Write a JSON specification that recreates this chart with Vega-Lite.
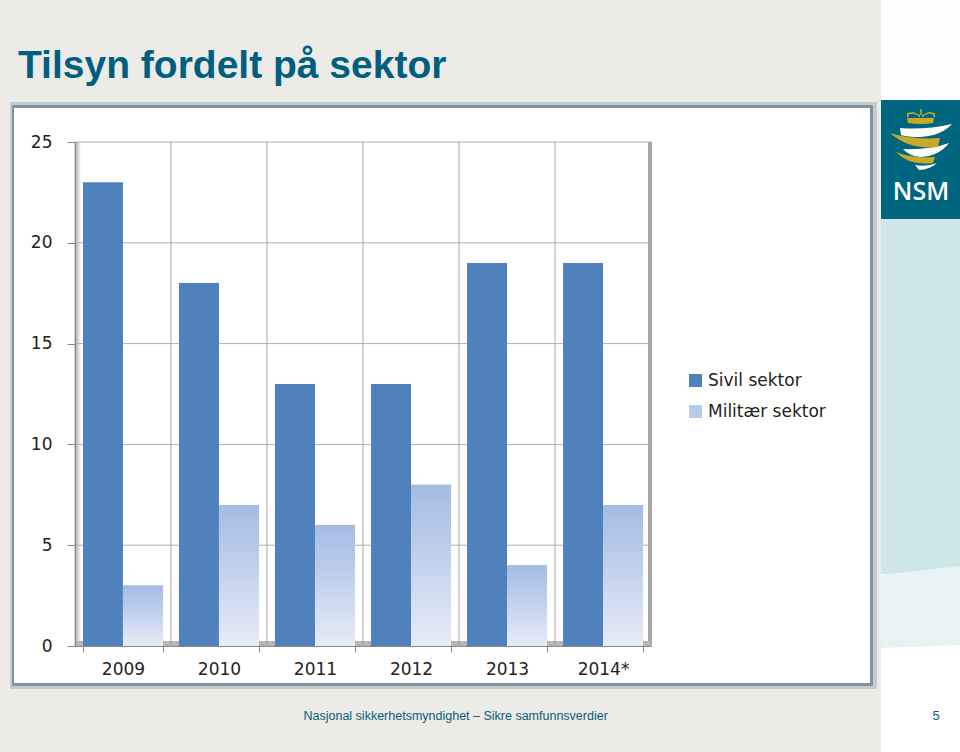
{
"$schema":"https://vega.github.io/schema/vega-lite/v6.json",
"width":576,"height":504,"autosize":"none",
"padding":{"left":75,"top":142,"right":309,"bottom":106},
"background":"#ecebe8",
"title":{"text":"Tilsyn fordelt på sektor","anchor":"start","frame":"group","dx":-57,"dy":117,"offset":0,"baseline":"alphabetic","font":"Liberation Sans","fontWeight":"bold","fontSize":39,"color":"#005f80"},
"config":{"view":{"stroke":null,"fill":"#ffffff"}},
"datasets":{
"bars":[
{"year":"2009","sector":"Sivil sektor","value":23},{"year":"2009","sector":"Militær sektor","value":3},
{"year":"2010","sector":"Sivil sektor","value":18},{"year":"2010","sector":"Militær sektor","value":7},
{"year":"2011","sector":"Sivil sektor","value":13},{"year":"2011","sector":"Militær sektor","value":6},
{"year":"2012","sector":"Sivil sektor","value":13},{"year":"2012","sector":"Militær sektor","value":8},
{"year":"2013","sector":"Sivil sektor","value":19},{"year":"2013","sector":"Militær sektor","value":4},
{"year":"2014*","sector":"Sivil sektor","value":19},{"year":"2014*","sector":"Militær sektor","value":7}],
"ygrid":[{"v":0},{"v":5},{"v":10},{"v":15},{"v":20},{"v":25}],
"xgrid":[{"year":"2009"},{"year":"2010"},{"year":"2011"},{"year":"2012"},{"year":"2013"},{"year":"2014*"}]
},
"layer":[
{"data":{"values":[{"part":"soft shadow"}]},"mark":{"type":"rect","fill":"#c5ccd0"},"encoding":{"x":{"value":-65},"x2":{"value":802},"y":{"value":-40},"y2":{"value":547}}},
{"data":{"values":[{"part":"frame"}]},"mark":{"type":"rect","fill":"#84929c"},"encoding":{"x":{"value":-63},"x2":{"value":798},"y":{"value":-37},"y2":{"value":544}}},
{"data":{"values":[{"part":"panel"}]},"mark":{"type":"rect","fill":"#ffffff"},"encoding":{"x":{"value":-61},"x2":{"value":795},"y":{"value":-34},"y2":{"value":541}}},
{"data":{"values":[{"part":"top"}]},"mark":{"type":"rect","fill":"#fdfdfd"},"encoding":{"x":{"value":806},"x2":{"value":885},"y":{"value":-142},"y2":{"value":-42}}},
{"data":{"values":[{"part":"logo"}]},"mark":{"type":"rect","fill":"#006680"},"encoding":{"x":{"value":806},"x2":{"value":885},"y":{"value":-42},"y2":{"value":77}}},
{"data":{"values":[{"part":"strip"}]},"mark":{"type":"rect","fill":"#cfe6e8"},"encoding":{"x":{"value":806},"x2":{"value":885},"y":{"value":77},"y2":{"value":432}}},
{"data":{"values":[{"part":"strip foot"}]},"mark":{"type":"rect","fill":"#ffffff"},"encoding":{"x":{"value":806},"x2":{"value":885},"y":{"value":432},"y2":{"value":610}}},
{"data":{"values":[{"part":"wave"}]},"mark":{"type":"point","filled":true,"opacity":1,"fill":"#e6f2f3","stroke":null,"size":4,"shape":"M-40,-35 L39,-44 L39,35 L-40,38 Z"},"encoding":{"x":{"value":846},"y":{"value":468}}},
{"data":{"values":[{"part":"white swooshes"}]},"mark":{"type":"point","filled":true,"opacity":1,"fill":"#ffffff","stroke":null,"size":4,"shape":"M-21,-12 Q5,-10 31,-16 Q20,-4 -1,-3 Q-14,-3 -20,-5 Z M-18,9 Q10,10 28,3 Q18,16 0,17 Q-12,16 -18,9 Z M-6,25 Q6,27 16,23 Q8,30 -2,30 Z"},"encoding":{"x":{"value":846},"y":{"value":-2}}},
{"data":{"values":[{"part":"gold swooshes"}]},"mark":{"type":"point","filled":true,"opacity":1,"fill":"#c9aa28","stroke":null,"size":4,"shape":"M-31,-7 Q-10,0 19,-2 L17,7 Q-12,10 -31,-7 Z M-25,12 Q-8,19 14,17 L12,23 Q-12,26 -25,12 Z M-14,-22 L13,-22 L12,-17 Q0,-15 -13,-17 Z M-14,-23 L-14,-27 L-8,-28 L-1,-25 L-1,-23 L-2.5,-23 L-2.5,-24.5 L-8,-26.5 L-12.5,-25.5 L-12.5,-23 Z M14,-23 L14,-27 L8,-28 L1,-25 L1,-23 L2.5,-23 L2.5,-24.5 L8,-26.5 L12.5,-25.5 L12.5,-23 Z M-0.7,-31 L0.7,-31 L0.7,-25 L-0.7,-25 Z"},"encoding":{"x":{"value":846},"y":{"value":-2}}},
{"data":{"values":[{"label":"NSM"}]},"mark":{"type":"text","font":"Open Sans","fontSize":25,"fontWeight":600,"fill":"#ffffff","align":"center","baseline":"alphabetic"},"encoding":{"text":{"field":"label"},"x":{"value":846},"y":{"value":58}}},
{"data":{"values":[{"part":"left wall"}]},"mark":{"type":"rect","fill":{"gradient":"linear","x1":0,"y1":0,"x2":1,"y2":0,"stops":[{"offset":0,"color":"#a8a8a8"},{"offset":1,"color":"#ffffff"}]}},"encoding":{"x":{"value":0},"x2":{"value":6},"y":{"value":0},"y2":{"value":504}}},
{"data":{"values":[{"part":"right wall"}]},"mark":{"type":"rect","fill":"#a6a6a6"},"encoding":{"x":{"value":573},"x2":{"value":577},"y":{"value":0},"y2":{"value":504}}},
{"data":{"values":[{"part":"floor"}]},"mark":{"type":"rect","fill":"#b5b5b5"},"encoding":{"x":{"value":0},"x2":{"value":576},"y":{"value":499},"y2":{"value":504}}},
{"data":{"name":"ygrid"},"mark":{"type":"rule","color":"#b0b0b0","strokeWidth":1},"encoding":{"y":{"field":"v","type":"quantitative","scale":{"domain":[0,25],"nice":false}}}},
{"data":{"name":"xgrid"},"mark":{"type":"rule","color":"#a6a6a6","strokeWidth":1,"xOffset":-8},"encoding":{"x":{"field":"year","type":"nominal","bandPosition":0,"sort":null}}},
{"data":{"name":"bars"},"mark":{"type":"bar"},"encoding":{
"x":{"field":"year","type":"nominal","sort":null,"scale":{"paddingInner":0.167,"paddingOuter":0.083},
 "title":"Nasjonal sikkerhetsmyndighet – Sikre samfunnsverdier",
 "axis":{"titleX":228,"titleY":73,"titleAlign":"left","titleBaseline":"alphabetic","titleFont":"Liberation Sans","titleFontSize":12.5,"titleFontWeight":"normal","titleColor":"#0b5c78","labelAngle":0,"labelAlign":"center","labelFont":"DejaVu Sans","labelFontSize":17,"labelColor":"#222222","labelPadding":17,"tickBand":"extent","tickOffset":8,"tickSize":6,"tickColor":"#888888","domainColor":"#888888","grid":false,"zindex":1}},
"xOffset":{"field":"sector","sort":["Sivil sektor","Militær sektor"]},
"y":{"field":"value","type":"quantitative","stack":null,"scale":{"domain":[0,25],"nice":false},
 "title":"5",
 "axis":{"titleX":857,"titleY":577,"titleAngle":0,"titleAlign":"left","titleBaseline":"alphabetic","titleFont":"Liberation Sans","titleFontSize":13,"titleFontWeight":"normal","titleColor":"#0b5c78","values":[0,5,10,15,20,25],"labelFont":"DejaVu Sans","labelFontSize":17,"labelColor":"#222222","labelPadding":15,"tickSize":8,"tickColor":"#888888","domainColor":"#888888","grid":false,"zindex":1}},
"color":{"field":"sector","type":"nominal","sort":["Sivil sektor","Militær sektor"],
 "scale":{"domain":["Sivil sektor","Militær sektor"],"range":["#4f81bd","#b9cbea"]},
 "legend":{"title":null,"orient":"none","legendX":612,"legendY":230,"symbolType":"square","symbolSize":170,"symbolStrokeWidth":0,"labelFont":"DejaVu Sans","labelFontSize":17,"labelColor":"#222222","rowPadding":13,"labelOffset":4,"zindex":1}}
}},
{"data":{"name":"bars"},"transform":[{"filter":"datum.sector==='Militær sektor'"}],"mark":{"type":"bar","color":{"gradient":"linear","x1":0,"y1":0,"x2":0,"y2":1,"stops":[{"offset":0,"color":"#a3bbe3"},{"offset":1,"color":"#e6ecf7"}]}},"encoding":{
"x":{"field":"year","type":"nominal","sort":null},
"xOffset":{"field":"sector","sort":["Sivil sektor","Militær sektor"]},
"y":{"field":"value","type":"quantitative","stack":null,"scale":{"domain":[0,25],"nice":false}}
}}
]
}
